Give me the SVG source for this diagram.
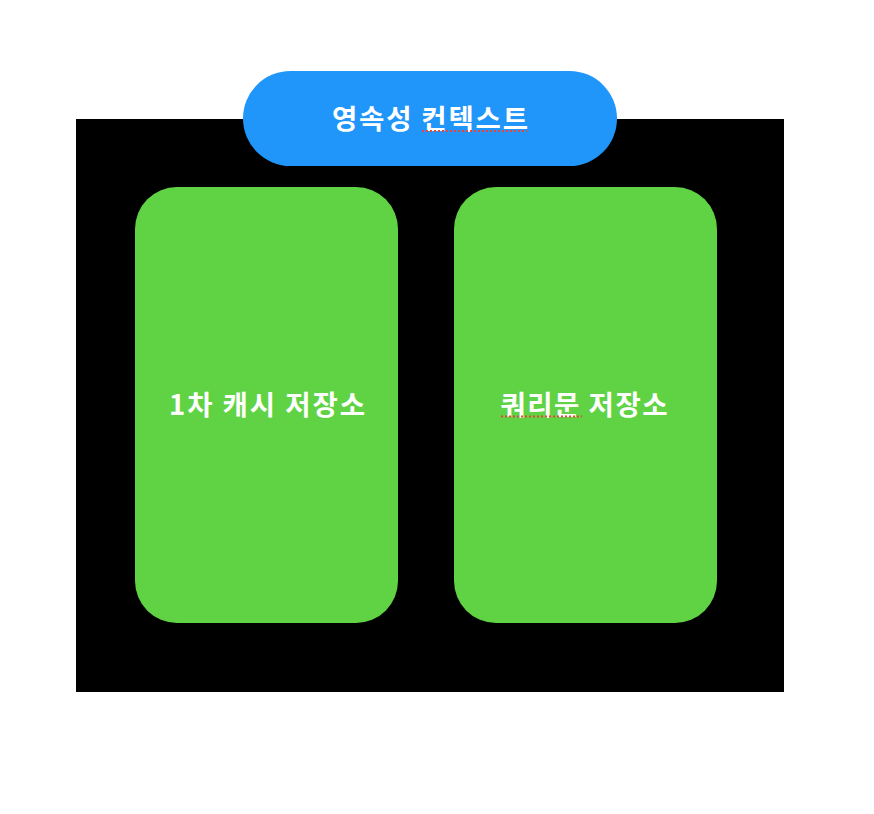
<svg xmlns="http://www.w3.org/2000/svg" width="874" height="814" viewBox="0 0 874 814">
<style>
.lbl{font-family:"Noto Sans CJK KR","Noto Sans",sans-serif;font-weight:bold;font-size:27.5px;fill:#ffffff;text-anchor:middle}
.store{fill:#5fd343}
.spell{stroke:#e8453c;stroke-width:2;stroke-dasharray:2 2;fill:none}
</style>
<rect width="874" height="814" fill="#ffffff"/>
<g id="container">
<rect x="76" y="119" width="708" height="573" fill="#000000"/>
</g>
<g id="context">
<rect x="243" y="71" width="374" height="95" rx="47.5" fill="#2196fa"/>
<text class="lbl" x="430" y="128.5" textLength="196" lengthAdjust="spacing">영속성 컨텍스트</text>
<line class="spell" x1="422" y1="131" x2="527" y2="131"/>
</g>
<g id="cache">
<rect class="store" x="135" y="187" width="263" height="436" rx="42"/>
<text class="lbl" x="267" y="414.5" textLength="196" lengthAdjust="spacing">1차 캐시 저장소</text>
</g>
<g id="query">
<rect class="store" x="454" y="187" width="263" height="436" rx="42"/>
<text class="lbl" x="584" y="414.5" textLength="167" lengthAdjust="spacing">쿼리문 저장소</text>
<line class="spell" x1="501" y1="416.5" x2="582" y2="416.5"/>
</g>
<g id="connectors"/>
</svg>
